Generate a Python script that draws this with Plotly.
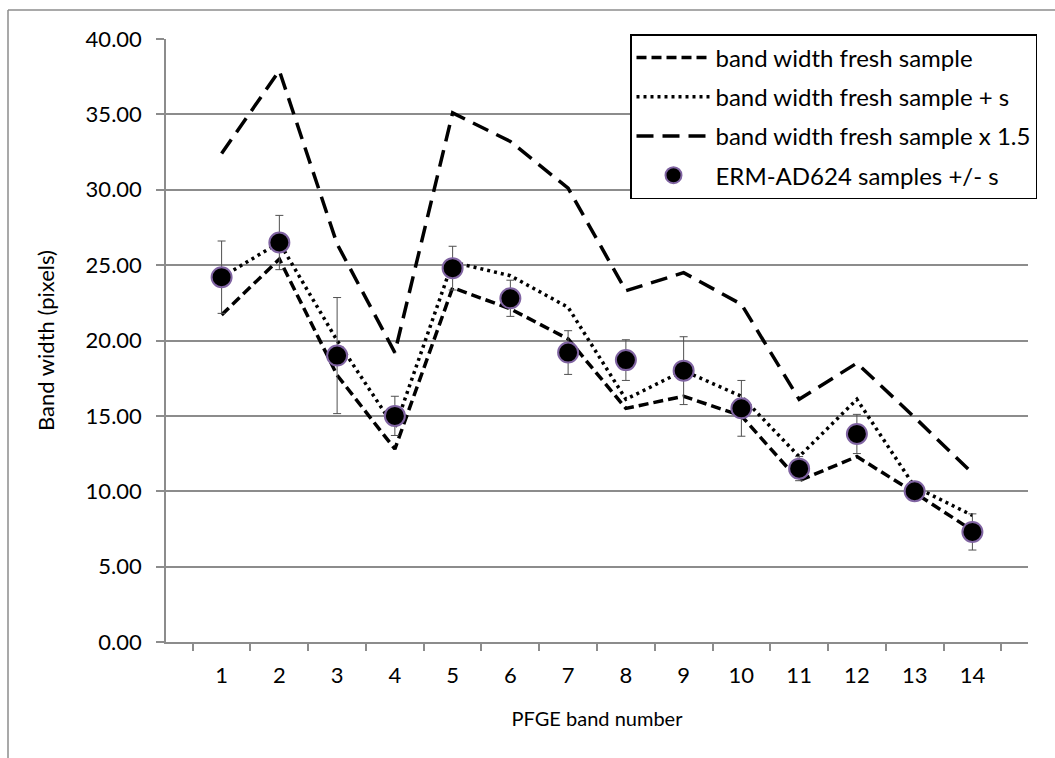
import plotly.graph_objects as go

# PFGE band numbers (category axis)
bands = [str(i) for i in range(1, 15)]

# Band widths (pixels)
fresh = [21.7, 25.4, 17.7, 12.8, 23.5, 22.1, 20.1, 15.5, 16.3, 15.0, 10.7, 12.3, 9.9, 7.4]
fresh_plus_s = [24.2, 26.5, 20.0, 14.2, 25.2, 24.3, 22.2, 16.1, 18.0, 16.3, 12.3, 16.1, 10.3, 8.4]
fresh_x15 = [32.4, 37.9, 26.4, 19.2, 35.1, 33.2, 30.1, 23.3, 24.5, 22.4, 16.1, 18.5, 14.9, 11.2]
erm_mean = [24.2, 26.5, 19.0, 15.0, 24.8, 22.8, 19.2, 18.7, 18.0, 15.5, 11.5, 13.8, 10.0, 7.3]
erm_sd = [2.4, 1.8, 3.85, 1.3, 1.45, 1.2, 1.45, 1.35, 2.25, 1.85, 0.8, 1.3, 0.3, 1.2]

y_ticks = [0, 5, 10, 15, 20, 25, 30, 35, 40]

FONT = "Lato, Calibri, sans-serif"
GRID = "#8c8c8c"

fig = go.Figure()

fig.add_trace(go.Scatter(
    x=bands, y=fresh, mode="lines", name="band width fresh sample",
    legendgroup="a",
    line=dict(color="black", width=3.5, dash="10px,5px"),
))
fig.add_trace(go.Scatter(
    x=bands, y=fresh_plus_s, mode="lines", name="band width fresh sample + s",
    legendgroup="b",
    line=dict(color="black", width=3.5, dash="3px,4px"),
))
fig.add_trace(go.Scatter(
    x=bands, y=fresh_x15, mode="lines", name="band width fresh sample x 1.5",
    legendgroup="c",
    line=dict(color="black", width=3.5, dash="17px,9px"),
))
fig.add_trace(go.Scatter(
    x=bands, y=erm_mean, mode="markers", name="ERM-AD624 samples +/- s",
    legendgroup="d",
    marker=dict(size=20, color="black", line=dict(color="#8064a2", width=2)),
    error_y=dict(type="data", array=erm_sd, visible=True,
                 color="#505050", thickness=1, width=4),
))

# outer chart frame
fig.add_shape(type="line", xref="paper", yref="paper",
              x0=(8 - 166) / 862, x1=(1060 - 166) / 862,
              y0=(642 - 10) / 603, y1=(642 - 10) / 603,
              line=dict(color="#8c8c8c", width=1.5), layer="below")
fig.add_shape(type="line", xref="paper", yref="paper",
              x0=(8 - 166) / 862, x1=(8 - 166) / 862,
              y0=(642 - 10) / 603, y1=(642 - 770) / 603,
              line=dict(color="#8c8c8c", width=1.5), layer="below")

fig.update_layout(
    width=1055, height=758,
    margin=dict(l=166, r=27, t=39, b=116),
    paper_bgcolor="white", plot_bgcolor="white",
    font=dict(family=FONT, color="black", size=22),
    showlegend=True,
    legend=dict(
        x=(630 - 166) / 862, y=(642 - 34) / 603,
        xanchor="left", yanchor="top",
        bgcolor="white", bordercolor="black", borderwidth=1.5,
        font=dict(family=FONT, size=24, color="black"),
        traceorder="grouped", tracegroupgap=5,
        itemwidth=74,
    ),
    xaxis=dict(
        type="category", categoryorder="array", categoryarray=bands,
        tickson="boundaries", ticks="outside", ticklen=7, tickwidth=1.5,
        tickcolor=GRID, showline=True, linecolor=GRID, linewidth=1.5,
        showgrid=False, zeroline=False,
        tickfont=dict(family=FONT, size=22),
        ticklabelstandoff=13,
        title=dict(text="PFGE band number", font=dict(family=FONT, size=20),
                   standoff=25),
    ),
    yaxis=dict(
        range=[0, 40], tickvals=y_ticks, tickformat=".2f",
        ticks="outside", ticklen=8, tickwidth=1.5, tickcolor=GRID,
        showline=True, linecolor=GRID, linewidth=1.5,
        showgrid=True, gridcolor=GRID, gridwidth=1.5, zeroline=False,
        tickfont=dict(family=FONT, size=22),
        ticklabelstandoff=10,
        title=dict(text="Band width (pixels)", font=dict(family=FONT, size=22),
                   standoff=25),
    ),
)

fig.write_html("out.html")
